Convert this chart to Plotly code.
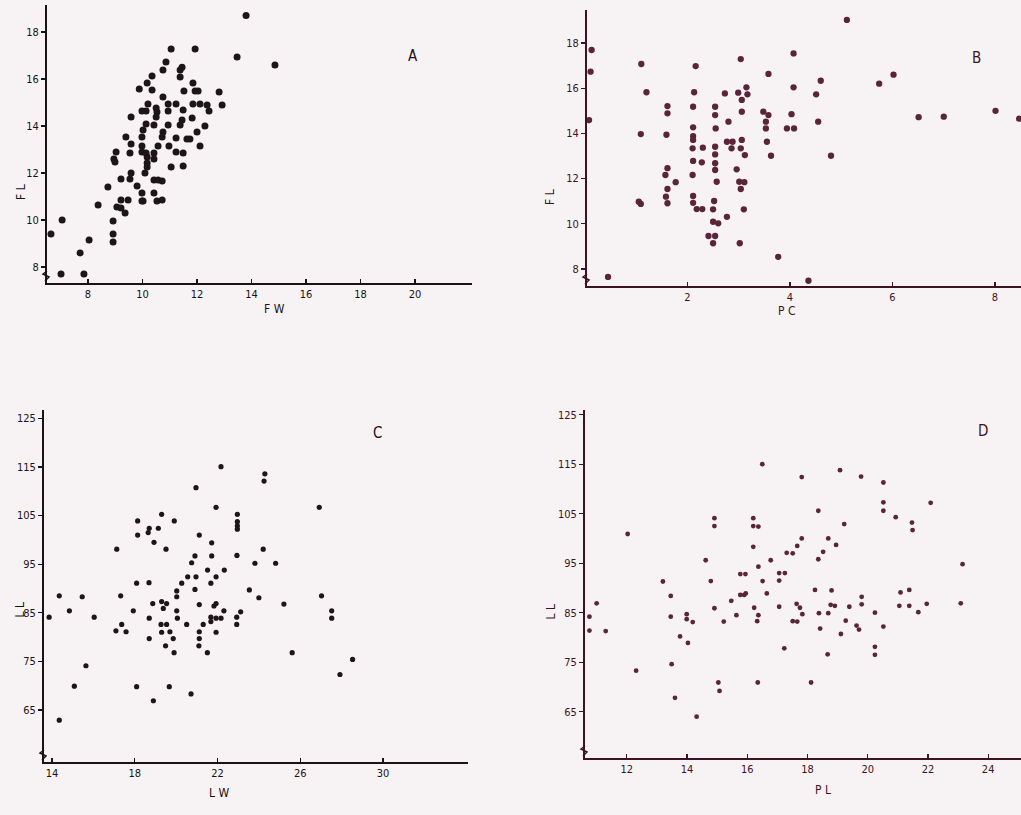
import plotly.graph_objects as go

# ---------------- data ----------------
A_points = [(13.8,18.7),(13.47,16.94),(14.86,16.6),(11.05,17.28),(11.93,17.28),(10.86,16.72),(10.75,16.38),(11.45,16.5),(11.38,16.38),(11.38,16.09),
            (10.35,16.13),(10.17,15.83),(10.35,15.53),(9.88,15.57),(11.85,15.83),(11.93,15.49),(12.04,15.49),(11.52,15.49),(12.81,15.45),(12.92,14.89),
            (10.75,15.23),(10.2,14.94),(10.94,14.94),(11.23,14.94),(11.85,14.94),(12.11,14.94),(12.37,14.89),(12.44,14.64),(9.98,14.64),(10.13,14.64),
            (10.5,14.77),(10.53,14.6),(10.94,14.64),(11.49,14.68),(10.5,14.38),(9.58,14.38),(10.13,14.09),(10.42,14.04),(10.94,14.04),(11.45,14.26),
            (11.38,14.04),(11.82,14.34),(12.29,14.0),(10.02,13.83),(10.75,13.74),(12.0,13.74),(9.98,13.53),(10.72,13.53),(11.23,13.49),(11.63,13.45),
            (11.74,13.45),(9.39,13.53),(9.58,13.23),(9.98,13.15),(10.57,13.15),(10.97,13.15),(12.11,13.15),(9.54,12.85),(9.98,12.89),(10.13,12.85),
            (10.42,12.85),(11.23,12.89),(11.49,12.85),(9.03,12.89),(8.95,12.6),(8.99,12.47),(10.17,12.68),(10.42,12.6),(10.17,12.43),(10.17,12.26),
            (11.05,12.26),(11.49,12.3),(9.58,12.0),(10.09,12.0),(9.54,11.74),(9.21,11.74),(10.42,11.7),(10.57,11.7),(10.72,11.66),(8.73,11.4),
            (9.8,11.45),(9.98,11.15),(10.42,11.15),(9.21,10.85),(9.47,10.85),(9.98,10.81),(10.02,10.81),(10.53,10.81),(10.72,10.85),(8.37,10.64),
            (9.06,10.55),(9.21,10.51),(9.36,10.3),(8.92,9.96),(7.05,10.0),(6.64,9.4),(8.04,9.15),(8.92,9.4),(8.92,9.06),(7.71,8.6),
            (7.01,7.7),(7.85,7.7)]

B_points = [(0.13,17.69),(0.11,16.73),(0.08,14.59),(0.45,7.65),(1.1,17.07),(1.2,15.82),(1.09,13.97),(1.05,10.98),(1.09,10.88),(1.61,15.21),
            (1.61,14.89),(1.59,13.94),(1.61,12.46),(1.57,12.16),(1.77,11.84),(1.61,11.54),(1.58,11.2),(1.61,10.91),(2.16,16.98),(2.13,15.82),
            (2.11,15.18),(2.11,14.27),(2.11,13.88),(2.11,13.71),(2.1,13.34),(2.3,13.37),(2.11,12.78),(2.28,12.72),(2.1,12.16),(2.11,11.23),
            (2.11,10.93),(2.18,10.65),(2.29,10.65),(2.54,15.18),(2.54,14.81),(2.55,14.22),(2.54,13.41),(2.54,13.07),(2.54,12.68),(2.54,12.38),
            (2.57,11.86),(2.52,11.01),(2.5,10.64),(2.5,10.09),(2.6,10.02),(2.41,9.46),(2.54,9.46),(2.5,9.14),(2.77,10.31),(2.73,15.77),
            (2.8,14.52),(2.77,13.63),(2.88,13.63),(2.86,13.34),(2.96,12.41),(3.04,17.29),(2.99,15.8),(3.15,16.04),(3.17,15.73),(3.06,15.48),
            (3.06,14.96),(3.06,13.71),(3.04,13.34),(3.12,13.04),(3.01,11.86),(3.11,11.84),(3.04,11.54),(3.1,10.64),(3.02,9.14),(3.58,16.63),
            (3.48,14.96),(3.58,14.81),(3.53,14.52),(3.53,14.22),(3.55,13.63),(3.63,13.01),(3.77,8.54),(3.94,14.22),(5.11,19.02),(4.07,17.54),
            (4.07,16.04),(4.6,16.33),(4.51,15.73),(4.03,14.85),(4.08,14.22),(4.55,14.52),(4.8,13.01),(4.36,7.48),(5.74,16.2),(6.02,16.6),
            (6.51,14.72),(7.0,14.74),(8.01,15.0),(8.47,14.65)]

C_points = [(22.17,115.06),(20.96,110.74),(21.93,106.7),(22.96,105.27),(22.96,103.76),(22.96,102.9),(22.96,102.2),(19.3,105.27),(19.91,103.9),(18.14,103.9),
            (18.7,102.4),(18.65,101.5),(19.14,102.4),(18.14,101.0),(18.93,99.5),(21.12,101.0),(21.72,99.4),(17.13,98.1),(19.51,98.1),(22.94,96.8),
            (20.91,96.7),(21.72,96.7),(20.75,95.3),(21.52,93.8),(22.33,93.8),(20.56,92.4),(20.96,92.4),(21.93,92.4),(20.27,91.1),(21.68,91.1),
            (18.09,91.1),(18.69,91.2),(20.03,89.5),(20.91,89.8),(23.54,89.7),(14.35,88.5),(15.46,88.3),(17.32,88.5),(20.03,88.3),(18.87,86.9),
            (19.3,87.3),(19.54,86.9),(21.12,86.7),(21.93,86.9),(21.83,86.4),(19.38,85.9),(14.84,85.4),(17.93,85.4),(20.03,85.4),(22.31,85.4),
            (23.12,85.2),(13.86,84.1),(16.04,84.1),(18.7,83.9),(20.06,83.9),(21.68,84.1),(21.93,83.9),(22.17,83.9),(22.93,84.1),(21.68,83.2),
            (17.37,82.6),(19.27,82.6),(19.54,82.6),(20.51,82.6),(21.31,82.6),(22.93,82.6),(17.09,81.3),(17.58,81.1),(19.3,81.0),(19.7,81.1),
            (21.12,81.1),(21.93,81.0),(18.7,79.7),(19.86,79.7),(21.12,79.7),(19.49,78.2),(21.1,78.2),(19.9,76.8),(21.51,76.8),(15.64,74.1),
            (15.08,69.9),(18.09,69.8),(19.67,69.8),(20.72,68.3),(18.9,66.9),(14.35,62.9),(24.29,113.6),(24.25,112.1),(26.92,106.7),(24.21,98.1),
            (23.81,95.2),(24.81,95.2),(24.0,88.1),(27.03,88.5),(25.21,86.8),(27.52,85.4),(27.52,83.9),(25.61,76.8),(28.53,75.4),(27.92,72.3)]

D_points = [(10.76,84.2),(10.76,81.4),(11.0,86.9),(11.3,81.3),(12.03,100.9),(12.31,73.3),(13.2,91.3),(13.46,88.4),(13.46,84.2),(13.49,74.6),
            (13.6,67.8),(13.77,80.2),(14.03,78.9),(13.99,84.7),(13.99,83.7),(14.19,83.1),(14.32,64.0),(14.62,95.6),(14.79,91.4),(14.91,104.1),
            (14.91,102.5),(14.91,85.9),(15.04,70.9),(15.08,69.2),(15.22,83.2),(15.47,87.4),(15.64,84.5),(15.77,92.8),(15.94,92.8),(15.77,88.6),
            (15.9,88.6),(15.95,88.9),(16.2,104.1),(16.2,102.5),(16.37,102.4),(16.2,98.3),(16.37,94.3),(16.23,86.0),(16.37,84.5),(16.33,83.3),
            (16.35,70.9),(16.5,115.0),(16.51,91.4),(16.65,88.9),(16.78,95.6),(17.06,93.0),(17.25,93.0),(17.06,91.5),(17.06,86.2),(17.31,97.1),
            (17.23,77.8),(17.81,112.4),(19.08,113.8),(19.78,112.5),(20.52,111.3),(20.52,107.3),(20.52,105.6),(22.09,107.2),(18.36,105.6),(20.93,104.3),
            (19.22,102.9),(21.47,103.2),(21.49,101.7),(17.81,100.0),(18.69,100.0),(17.66,98.5),(18.95,98.7),(18.52,97.3),(17.51,97.0),(18.36,95.8),
            (23.15,94.8),(18.25,89.6),(18.8,89.5),(19.8,88.2),(19.8,86.7),(18.77,86.6),(18.91,86.4),(17.64,86.8),(17.75,86.0),(21.09,89.1),
            (21.38,89.6),(21.96,86.8),(23.09,86.9),(19.39,86.2),(21.05,86.4),(21.38,86.4),(17.83,84.7),(18.38,84.9),(18.69,84.9),(20.24,85.0),
            (21.68,85.1),(17.51,83.3),(17.66,83.2),(19.27,83.4),(19.63,82.4),(19.71,81.6),(18.42,81.8),(20.52,82.2),(19.11,80.7),(20.24,78.1),
            (20.24,76.5),(18.67,76.6),(18.12,70.9)]

A_ticks_x = [8, 10, 12, 14, 16, 18, 20]
A_ticks_y = [8, 10, 12, 14, 16, 18]
B_ticks_x = [0, 2, 4, 6, 8]
B_ticks_y = [8, 10, 12, 14, 16, 18]
C_ticks_x = [14, 18, 22, 26, 30]
C_ticks_y = [65, 75, 85, 95, 105, 115, 125]
D_ticks_x = [12, 14, 16, 18, 20, 22, 24]
D_ticks_y = [65, 75, 85, 95, 105, 115, 125]

panel_letters = ["A", "B", "C", "D"]
x_titles = ["F W", "P C", "L W", "P L"]
y_titles = ["F L", "F L", "L L", "L L"]

# ---------------- layout helpers ----------------
W, H = 1021, 815
def px(x):
    return x / W
def py(y):
    return 1 - y / H

FONT = "Liberation Sans Narrow, DejaVu Sans Condensed, Arial Narrow, sans-serif"
BLACK = "#1d1517"
MAROON = "#5a2538"
AXBLACK = "#1a1214"
AXMAROON = "#3e1321"
BG = "#f7f3f4"

panels = [
    dict(pts=A_points, xt=A_ticks_x, yt=A_ticks_y, xd=(47, 472), yd=(5, 283), xr=(6.495, 22.09), yr=(7.319, 19.15),
         col=BLACK, axc=AXBLACK, ms=7, letter=(413, 45), xtitle=(262, 309), ytitle=(12, 182)),
    dict(pts=B_points, xt=B_ticks_x, yt=B_ticks_y, xd=(587, 1021), yd=(10, 286), xr=(0.04, 8.507), yr=(7.248, 19.46),
         col=MAROON, axc=AXMAROON, ms=6.3, letter=(983, 47), xtitle=(797, 311), ytitle=(550, 187)),
    dict(pts=C_points, xt=C_ticks_x, yt=C_ticks_y, xd=(44, 468), yd=(410, 762), xr=(13.613, 34.11), yr=(54.3, 126.73),
         col=BLACK, axc=AXBLACK, ms=5.2, letter=(377, 433), xtitle=(207, 802), ytitle=(10, 620)),
    dict(pts=D_points, xt=D_ticks_x, yt=D_ticks_y, xd=(585, 1021), yd=(410, 758), xr=(10.613, 25.09), yr=(55.65, 125.95),
         col=MAROON, axc=AXMAROON, ms=4.8, letter=(990, 431), xtitle=(833, 799), ytitle=(550, 622)),
]

fig = go.Figure()
layout = dict(
    width=W, height=H,
    margin=dict(l=0, r=0, t=0, b=0),
    paper_bgcolor=BG, plot_bgcolor=BG,
    showlegend=False,
    font=dict(family=FONT, size=12, color=AXBLACK),
    annotations=[], shapes=[],
)

for i, p in enumerate(panels):
    n = "" if i == 0 else str(i + 1)
    xs = [q[0] for q in p["pts"]]
    ys = [q[1] for q in p["pts"]]
    fig.add_trace(go.Scatter(
        x=xs, y=ys, mode="markers",
        marker=dict(size=p["ms"], color=p["col"], line=dict(width=0)),
        xaxis="x" + n, yaxis="y" + n, hoverinfo="skip"))
    layout["xaxis" + n] = dict(
        domain=[px(p["xd"][0]), px(p["xd"][1])], range=list(p["xr"]),
        anchor="y" + n, showgrid=False, zeroline=False,
        showline=True, linecolor=p["axc"], linewidth=2,
        ticks="inside", ticklen=4, tickwidth=1.2, tickcolor=p["axc"],
        tickvals=p["xt"], ticktext=[str(v) for v in p["xt"]],
        tickfont=dict(family=FONT, size=11, color=p["axc"]), automargin=False)
    layout["yaxis" + n] = dict(
        domain=[py(p["yd"][1]), py(p["yd"][0])], range=list(p["yr"]),
        anchor="x" + n, showgrid=False, zeroline=False,
        showline=True, linecolor=p["axc"], linewidth=2,
        ticks="outside", ticklen=4, tickwidth=1.2, tickcolor=p["axc"],
        tickvals=p["yt"], ticktext=[str(v) for v in p["yt"]],
        tickfont=dict(family=FONT, size=11, color=p["axc"]), automargin=False)
    layout["annotations"].append(dict(
        x=px(p["letter"][0]), y=py(p["letter"][1]), xref="paper", yref="paper",
        text=panel_letters[i], showarrow=False, font=dict(family=FONT, size=15, color=p["axc"])))
    layout["annotations"].append(dict(
        x=px(p["xtitle"][0]), y=py(p["xtitle"][1]), xref="paper", yref="paper",
        text=x_titles[i], showarrow=False, font=dict(family=FONT, size=12, color=p["axc"])))
    layout["annotations"].append(dict(
        x=px(p["ytitle"][0]), y=py(p["ytitle"][1]), xref="paper", yref="paper",
        text=y_titles[i], textangle=-90, showarrow=False, font=dict(family=FONT, size=12, color=p["axc"])))
    # axis-break zigzag near the origin (decoration)
    ax_x = p["xd"][0]
    base = p["yd"][1]
    path = "M {a},{b} L {c},{d} L {e},{f} L {g},{h}".format(
        a=px(ax_x), b=py(base - 12), c=px(ax_x - 4), d=py(base - 9),
        e=px(ax_x + 2), f=py(base - 6), g=px(ax_x - 2), h=py(base - 2))
    layout["shapes"].append(dict(type="path", path=path, xref="paper", yref="paper",
                                 line=dict(color=p["axc"], width=1.5)))

fig.update_layout(**layout)
fig.write_html("out.html", config={"displayModeBar": False, "staticPlot": True},
               post_script="document.body.style.margin='0';document.body.style.padding='0';document.body.style.background='" + BG + "';")
